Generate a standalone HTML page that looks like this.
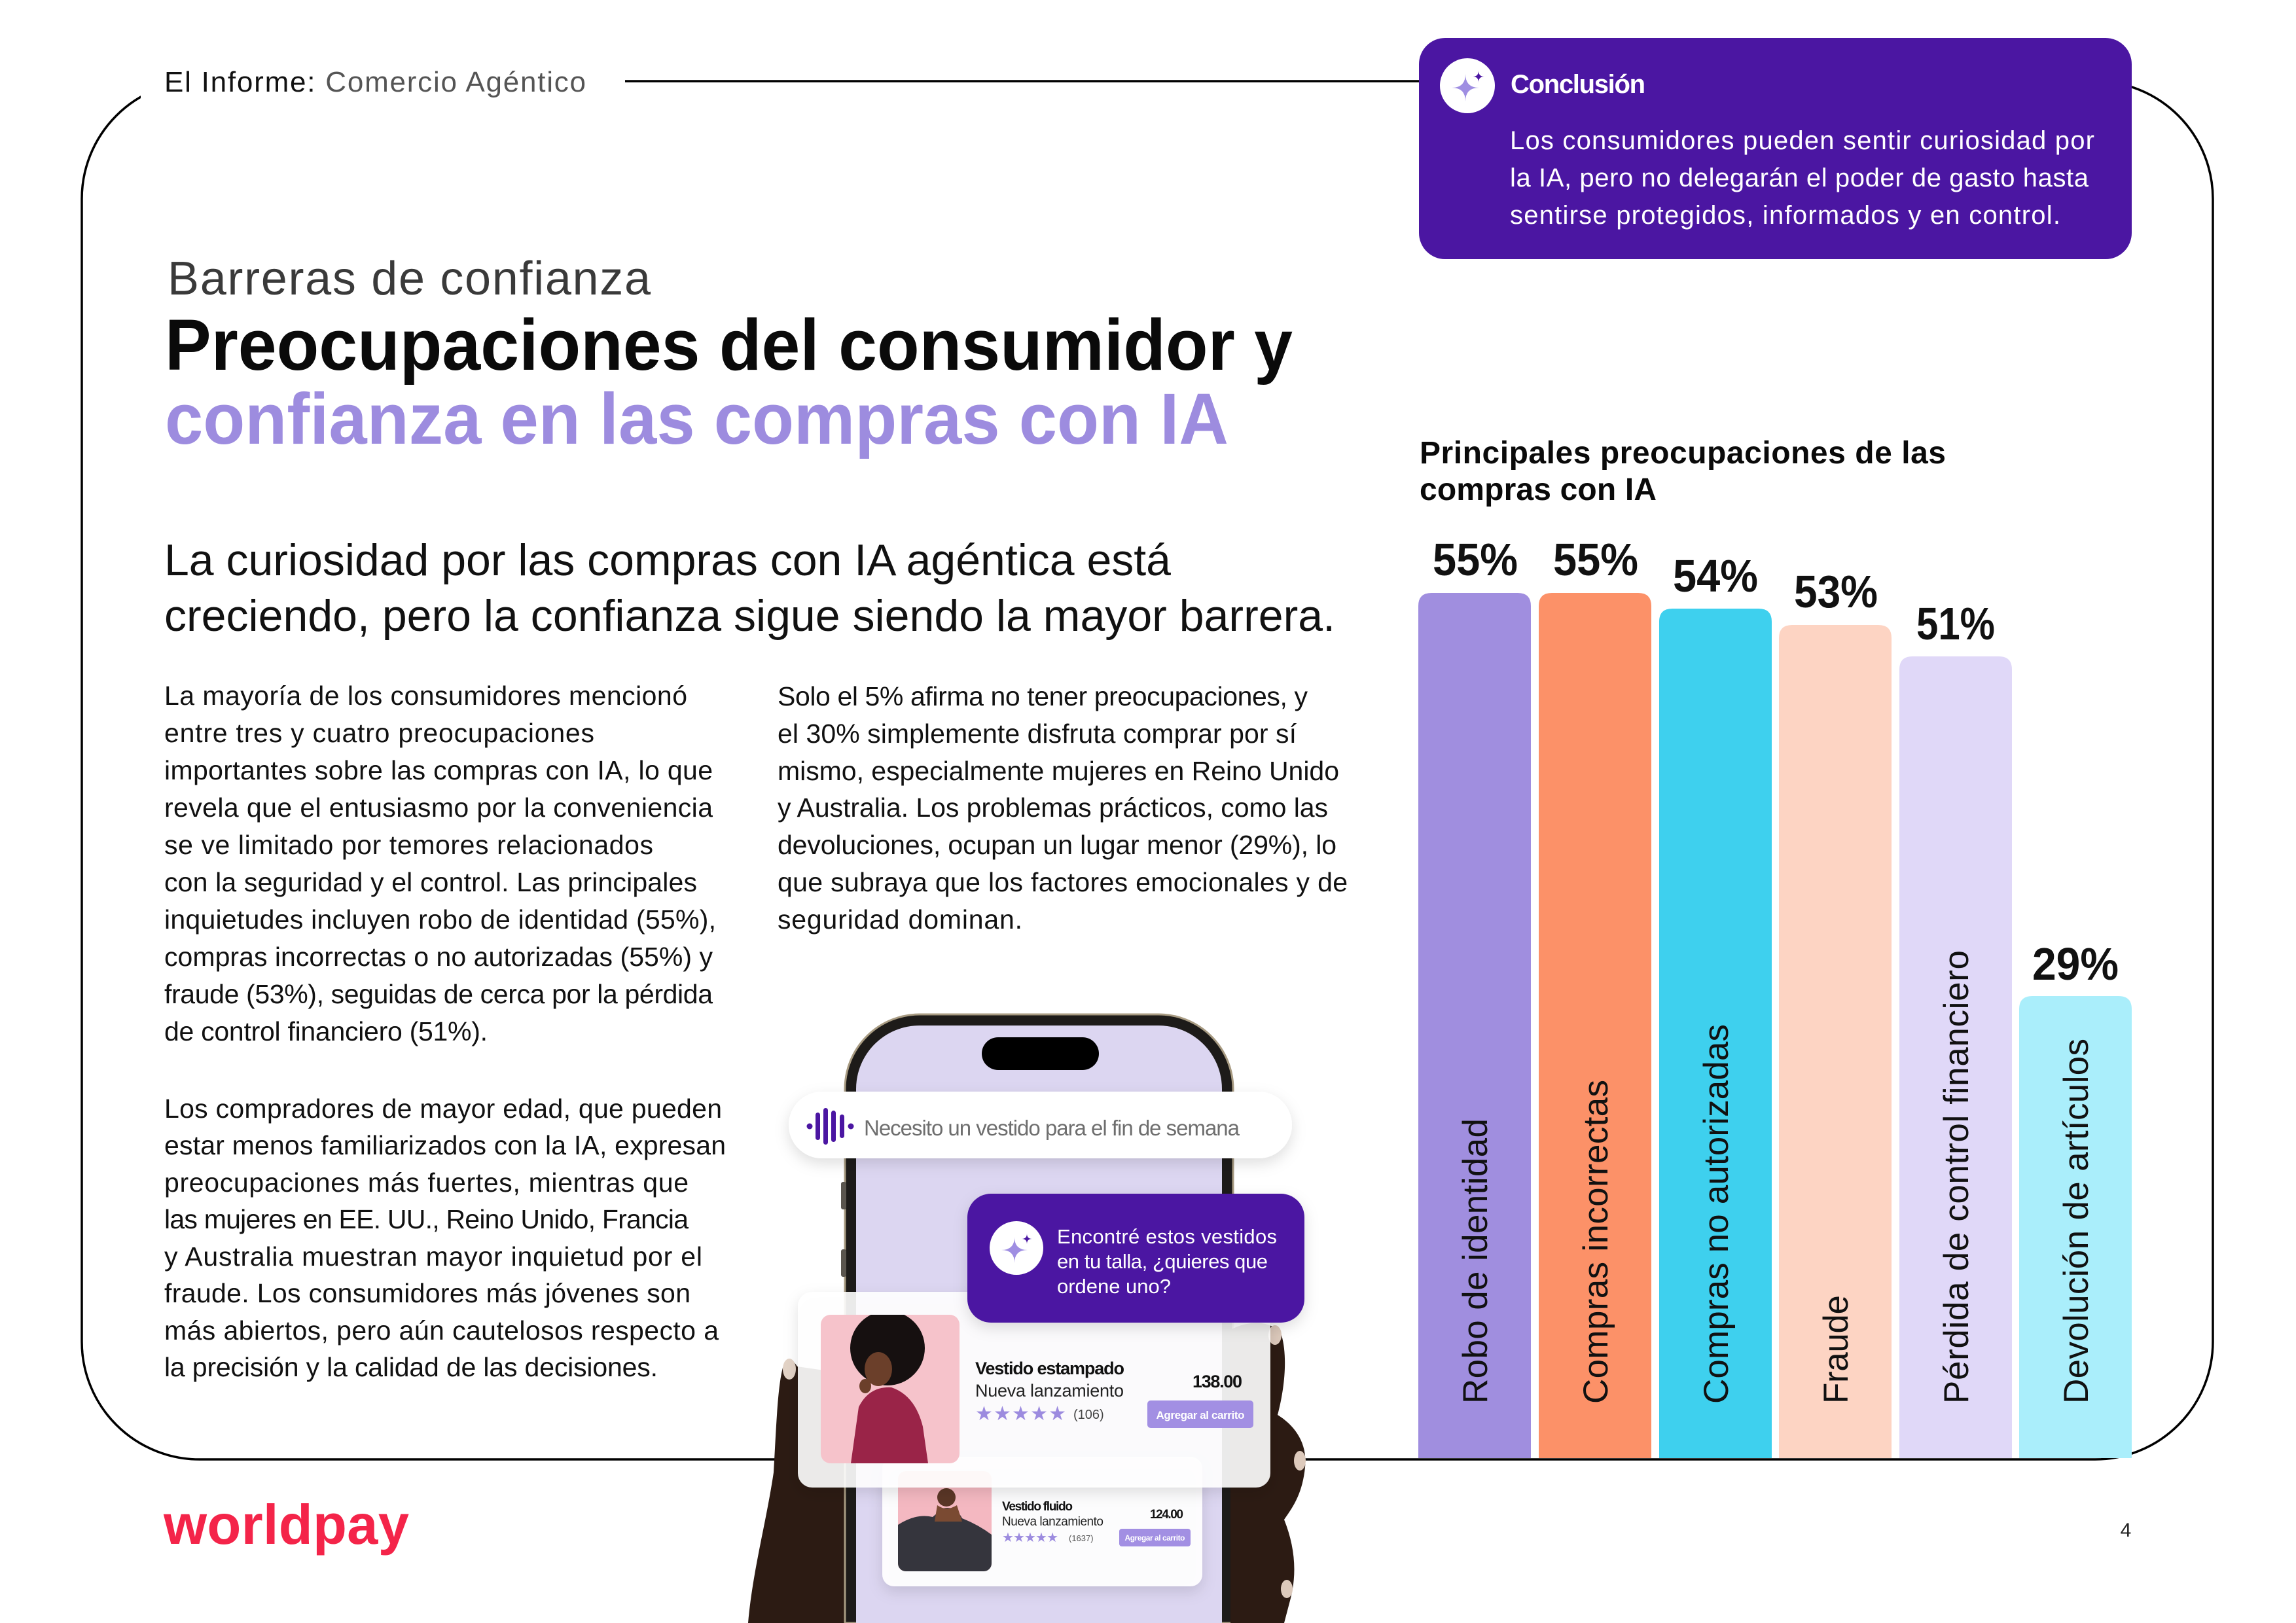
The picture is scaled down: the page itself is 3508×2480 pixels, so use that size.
<!DOCTYPE html>
<html><head><meta charset="utf-8"><style>
html,body{margin:0;padding:0;background:#fff;width:3508px;height:2480px;overflow:hidden;}
svg{display:block;}
text{font-family:"Liberation Sans","DejaVu Sans",sans-serif;}
.b{font-weight:bold;}
</style></head><body>
<svg width="3508" height="2480" viewBox="0 0 3508 2480" xmlns="http://www.w3.org/2000/svg" overflow="hidden">
<defs>
<filter id="sh" x="-10%" y="-25%" width="120%" height="160%"><feDropShadow dx="0" dy="8" stdDeviation="11" flood-color="#000" flood-opacity="0.13"/></filter>
<clipPath id="c1"><rect x="1254" y="2009" width="212" height="227" rx="15"/></clipPath>
<clipPath id="c2"><rect x="1372" y="2248" width="143" height="153" rx="12"/></clipPath>
<clipPath id="page"><rect x="0" y="0" width="3508" height="2480"/></clipPath>
</defs>
<rect width="3508" height="2480" fill="#fff"/>

<!-- frame -->
<rect x="125" y="124" width="3256" height="2106" rx="180" fill="none" stroke="#000" stroke-width="3.5"/>
<rect x="215" y="95" width="740" height="56" fill="#fff"/>

<!-- header -->
<text x="251" y="140" font-size="44" textLength="644"><tspan fill="#111">El Informe:</tspan><tspan fill="#555"> Comercio Agéntico</tspan></text>

<!-- conclusion box -->
<rect x="2168" y="58" width="1089" height="338" rx="40" fill="#4B16A2"/>
<circle cx="2242" cy="131" r="42" fill="#fff"/>
<path d="M2239,113 Q2239,134 2260,134 Q2239,134 2239,155 Q2239,134 2218,134 Q2239,134 2239,113 Z" fill="#9F8EE2"/>
<path d="M2259,108 Q2259,117 2268,117 Q2259,117 2259,126 Q2259,117 2250,117 Q2259,117 2259,108 Z" fill="#4B16A2"/>
<text x="2308" y="142" font-size="40" class="b" fill="#fff" textLength="206">Conclusión</text>
<text x="2307" y="228" font-size="40" fill="#fff" textLength="893">Los consumidores pueden sentir curiosidad por</text>
<text x="2307" y="285" font-size="40" fill="#fff" textLength="884">la IA, pero no delegarán el poder de gasto hasta</text>
<text x="2307" y="342" font-size="40" fill="#fff" textLength="841">sentirse protegidos, informados y en control.</text>

<!-- titles -->
<text x="256" y="450" font-size="72" fill="#3a3a3a" textLength="738">Barreras de confianza</text>
<text x="252" y="565" font-size="110" class="b" fill="#0a0a0a" textLength="1723" lengthAdjust="spacingAndGlyphs">Preocupaciones del consumidor y</text>
<text x="252" y="678" font-size="110" class="b" fill="#9D8CDF" textLength="1625" lengthAdjust="spacingAndGlyphs">confianza en las compras con IA</text>
<text x="251" y="879" font-size="68" fill="#111" textLength="1538">La curiosidad por las compras con IA agéntica está</text>
<text x="251" y="964" font-size="68" fill="#111" textLength="1789">creciendo, pero la confianza sigue siendo la mayor barrera.</text>

<!-- left column -->
<g font-size="41" fill="#111">
<text x="251" y="1077" textLength="799">La mayoría de los consumidores mencionó</text>
<text x="251" y="1134" textLength="657">entre tres y cuatro preocupaciones</text>
<text x="251" y="1191" textLength="838">importantes sobre las compras con IA, lo que</text>
<text x="251" y="1248" textLength="838">revela que el entusiasmo por la conveniencia</text>
<text x="251" y="1305" textLength="747">se ve limitado por temores relacionados</text>
<text x="251" y="1362" textLength="814">con la seguridad y el control. Las principales</text>
<text x="251" y="1419" textLength="843">inquietudes incluyen robo de identidad (55%),</text>
<text x="251" y="1476" textLength="838">compras incorrectas o no autorizadas (55%) y</text>
<text x="251" y="1533" textLength="838">fraude (53%), seguidas de cerca por la pérdida</text>
<text x="251" y="1590" textLength="494">de control financiero (51%).</text>

<text x="251" y="1708" textLength="852">Los compradores de mayor edad, que pueden</text>
<text x="251" y="1764" textLength="858">estar menos familiarizados con la IA, expresan</text>
<text x="251" y="1821" textLength="801">preocupaciones más fuertes, mientras que</text>
<text x="251" y="1877" textLength="801">las mujeres en EE. UU., Reino Unido, Francia</text>
<text x="251" y="1934" textLength="822">y Australia muestran mayor inquietud por el</text>
<text x="251" y="1990" textLength="804">fraude. Los consumidores más jóvenes son</text>
<text x="251" y="2047" textLength="847">más abiertos, pero aún cautelosos respecto a</text>
<text x="251" y="2103" textLength="754">la precisión y la calidad de las decisiones.</text>

<!-- middle column -->
<text x="1188" y="1078" textLength="810">Solo el 5% afirma no tener preocupaciones, y</text>
<text x="1188" y="1135" textLength="793">el 30% simplemente disfruta comprar por sí</text>
<text x="1188" y="1192" textLength="858">mismo, especialmente mujeres en Reino Unido</text>
<text x="1188" y="1248" textLength="841">y Australia. Los problemas prácticos, como las</text>
<text x="1188" y="1305" textLength="854">devoluciones, ocupan un lugar menor (29%), lo</text>
<text x="1188" y="1362" textLength="871">que subraya que los factores emocionales y de</text>
<text x="1188" y="1419" textLength="374">seguridad dominan.</text>
</g>

<!-- chart -->
<text x="2169" y="708" font-size="48" class="b" fill="#0a0a0a" textLength="804">Principales preocupaciones de las</text>
<text x="2169" y="764" font-size="48" class="b" fill="#0a0a0a" textLength="362">compras con IA</text>

<path d="M2167,2228 V926 Q2167,906 2187,906 H2319 Q2339,906 2339,926 V2228 Z" fill="#A08EDF"/>
<path d="M2351,2228 V926 Q2351,906 2371,906 H2503 Q2523,906 2523,926 V2228 Z" fill="#FC9168"/>
<path d="M2535,2228 V950 Q2535,930 2555,930 H2687 Q2707,930 2707,950 V2228 Z" fill="#3ED0EE"/>
<path d="M2718,2228 V975 Q2718,955 2738,955 H2870 Q2890,955 2890,975 V2228 Z" fill="#FDD4C3"/>
<path d="M2902,2228 V1023 Q2902,1003 2922,1003 H3054 Q3074,1003 3074,1023 V2228 Z" fill="#E0D8F8"/>
<path d="M3085,2228 V1542 Q3085,1522 3105,1522 H3237 Q3257,1522 3257,1542 V2228 Z" fill="#AAEEFB"/>

<g font-size="70" class="b" fill="#111" text-anchor="middle">
<text x="2254" y="879" textLength="130" lengthAdjust="spacingAndGlyphs">55%</text>
<text x="2438" y="879" textLength="130" lengthAdjust="spacingAndGlyphs">55%</text>
<text x="2621" y="904" textLength="130" lengthAdjust="spacingAndGlyphs">54%</text>
<text x="2805" y="928" textLength="128" lengthAdjust="spacingAndGlyphs">53%</text>
<text x="2988" y="977" textLength="120" lengthAdjust="spacingAndGlyphs">51%</text>
<text x="3171" y="1497" textLength="132" lengthAdjust="spacingAndGlyphs">29%</text>
</g>
<g font-size="53" fill="#111">
<text transform="translate(2272,2145) rotate(-90)" textLength="436">Robo de identidad</text>
<text transform="translate(2456,2145) rotate(-90)" textLength="495">Compras incorrectas</text>
<text transform="translate(2640,2145) rotate(-90)" textLength="580">Compras no autorizadas</text>
<text transform="translate(2823,2145) rotate(-90)" textLength="166">Fraude</text>
<text transform="translate(3007,2145) rotate(-90)" textLength="693">Pérdida de control financiero</text>
<text transform="translate(3190,2145) rotate(-90)" textLength="558">Devolución de artículos</text>
</g>

<!-- phone illustration -->
<g clip-path="url(#page)">
<path d="M1143,2480 C1150,2400 1170,2330 1182,2250 C1186,2180 1188,2120 1196,2090 Q1206,2068 1218,2088 L1300,2100 L1300,2480 Z" fill="#2c1b13"/>
<ellipse cx="1206" cy="2092" rx="10" ry="16" fill="#e3d3c6"/>
<path d="M1291,2480 V1664 A114,114 0 0 1 1405,1550 H1770 A114,114 0 0 1 1884,1664 V2480 Z" fill="#1d1b19" stroke="#a89b82" stroke-width="3"/>
<rect x="1285" y="1806" width="8" height="42" rx="3" fill="#5a554e"/>
<rect x="1285" y="1909" width="8" height="42" rx="3" fill="#5a554e"/>
<path d="M1308,2480 V1664 A97,97 0 0 1 1405,1567 H1770 A97,97 0 0 1 1867,1664 V2480 Z" fill="#DCD6F1"/>
<rect x="1500" y="1585" width="179" height="50" rx="25" fill="#000"/>

<path d="M1880,2032 C1910,2016 1945,2018 1958,2040 C1968,2075 1962,2125 1952,2162 C1978,2178 1998,2205 1994,2242 C1990,2282 1976,2302 1962,2322 C1978,2362 1982,2402 1972,2442 L1962,2480 L1880,2480 Z" fill="#2c1b13"/>
<ellipse cx="1948" cy="2040" rx="10" ry="15" fill="#ddcabc"/>
<ellipse cx="1986" cy="2232" rx="9" ry="15" fill="#ddcabc"/>
<ellipse cx="1966" cy="2428" rx="9" ry="14" fill="#ddcabc"/>
</g>

<!-- search pill -->
<rect x="1205" y="1668" width="769" height="102" rx="51" fill="#fff" filter="url(#sh)"/>
<g fill="#4B16A2">
<circle cx="1237" cy="1721" r="4.5"/>
<rect x="1246" y="1700" width="7" height="42" rx="3.5"/>
<rect x="1258" y="1693" width="7" height="56" rx="3.5"/>
<rect x="1270" y="1697" width="7" height="48" rx="3.5"/>
<rect x="1283" y="1703" width="7" height="36" rx="3.5"/>
<circle cx="1300" cy="1721" r="4.5"/>
</g>
<text x="1320" y="1735" font-size="33" fill="#6e6e6e" textLength="574">Necesito un vestido para el fin de semana</text>

<!-- card 2 -->
<rect x="1348" y="2226" width="489" height="198" rx="18" fill="#fff" fill-opacity="0.94" filter="url(#sh)"/>
<g clip-path="url(#c2)">
<rect x="1372" y="2248" width="143" height="153" fill="#F4B8C1"/>
<path d="M1372,2330 Q1400,2312 1425,2318 L1440,2305 Q1460,2300 1470,2320 Q1495,2330 1515,2345 L1515,2401 L1372,2401 Z" fill="#35353d"/>
<circle cx="1446" cy="2288" r="14" fill="#5a3626"/>
<path d="M1432,2300 Q1446,2310 1462,2300 L1470,2325 L1428,2325 Z" fill="#7a4a32"/>
</g>
<text x="1531" y="2308" font-size="19" class="b" fill="#111" textLength="108">Vestido fluido</text>
<text x="1531" y="2331" font-size="19" fill="#222" textLength="155">Nueva lanzamiento</text>
<text x="1531" y="2356" font-size="20" fill="#9C8BDF" font-family="DejaVu Sans" textLength="86">★★★★★</text>
<text x="1633" y="2355" font-size="13" fill="#555">(1637)</text>
<text x="1757" y="2320" font-size="19" class="b" fill="#111" textLength="51">124.00</text>
<rect x="1710" y="2336" width="109" height="27" rx="4" fill="#A28FE3"/>
<text x="1764.5" y="2354" font-size="12" class="b" fill="#fff" text-anchor="middle" textLength="92">Agregar al carrito</text>

<!-- card 1 -->
<rect x="1219" y="1974" width="722" height="299" rx="22" fill="#fff" fill-opacity="0.9" filter="url(#sh)"/>
<g clip-path="url(#c1)">
<rect x="1254" y="2009" width="212" height="227" fill="#F6C3CB"/>
<path d="M1300,2236 L1312,2150 Q1328,2118 1362,2120 Q1398,2132 1410,2180 L1418,2236 Z" fill="#9a2448"/>
<circle cx="1356" cy="2060" r="57" fill="#161010"/>
<ellipse cx="1342" cy="2092" rx="21" ry="26" fill="#6b3f2a"/>
<ellipse cx="1322" cy="2118" rx="9" ry="11" fill="#6b3f2a"/>
</g>
<text x="1490" y="2100" font-size="27" class="b" fill="#111" textLength="228">Vestido estampado</text>
<text x="1490" y="2134" font-size="27" fill="#222" textLength="227">Nueva lanzamiento</text>
<text x="1490" y="2170" font-size="30" fill="#9C8BDF" font-family="DejaVu Sans" textLength="139">★★★★★</text>
<text x="1640" y="2168" font-size="20" fill="#444">(106)</text>
<text x="1898" y="2120" font-size="27" class="b" fill="#111" text-anchor="end" textLength="76">138.00</text>
<rect x="1753" y="2140" width="162" height="42" rx="5" fill="#A28FE3"/>
<text x="1834" y="2168" font-size="17" class="b" fill="#fff" text-anchor="middle" textLength="135">Agregar al carrito</text>

<!-- bubble -->
<rect x="1478" y="1824" width="515" height="197" rx="36" fill="#4B16A2" filter="url(#sh)"/>
<circle cx="1553" cy="1907" r="41" fill="#fff"/>
<path d="M1550,1890 Q1550,1910 1570,1910 Q1550,1910 1550,1930 Q1550,1910 1530,1910 Q1550,1910 1550,1890 Z" fill="#9F8EE2"/>
<path d="M1569,1885 Q1569,1893 1577,1893 Q1569,1893 1569,1901 Q1569,1893 1561,1893 Q1569,1893 1569,1885 Z" fill="#4B16A2"/>
<text x="1615" y="1900" font-size="31" fill="#fff" textLength="336">Encontré estos vestidos</text>
<text x="1615" y="1938" font-size="31" fill="#fff" textLength="322">en tu talla, ¿quieres que</text>
<text x="1615" y="1976" font-size="31" fill="#fff" textLength="174">ordene uno?</text>

<!-- footer -->
<text x="250" y="2359" font-size="85" class="b" fill="#F42449" textLength="375">worldpay</text>
<text x="3248" y="2348" font-size="30" fill="#222" text-anchor="middle">4</text>
</svg>
</body></html>
